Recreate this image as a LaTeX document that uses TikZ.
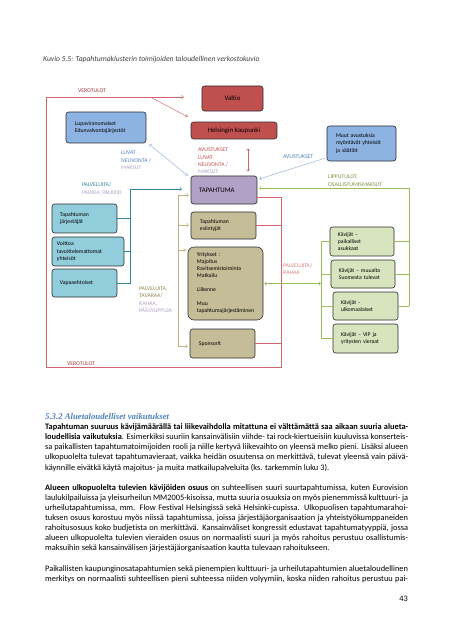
\documentclass[tikz,border=0pt]{standalone}
\usepackage{fontspec}
\setmainfont{Carlito}[Ligatures={TeX,NoCommon}]
\newfontfamily\headfont{Liberation Serif}
\usetikzlibrary{arrows.meta}
\definecolor{cred}{RGB}{192,80,77}
\definecolor{cblue}{RGB}{141,179,226}
\definecolor{cpurple}{RGB}{178,161,199}
\definecolor{cteal}{RGB}{146,205,220}
\definecolor{ctan}{RGB}{196,189,151}
\definecolor{cgreen}{RGB}{215,228,189}
\definecolor{boxborder}{RGB}{45,45,45}
\definecolor{redln}{RGB}{210,100,110}
\definecolor{blueln}{RGB}{149,179,215}
\definecolor{tealln}{RGB}{49,133,156}
\definecolor{tanln}{RGB}{190,180,130}
\definecolor{greenln}{RGB}{155,187,89}
\definecolor{lvero}{RGB}{160,60,62}
\definecolor{lblue}{RGB}{79,129,189}
\definecolor{llilac}{RGB}{178,161,199}
\definecolor{lteal}{RGB}{49,133,156}
\definecolor{lred}{RGB}{192,80,77}
\definecolor{lolive}{RGB}{119,147,60}
\definecolor{lkhaki}{RGB}{148,138,84}
\definecolor{lpink}{RGB}{217,130,128}
\definecolor{headblue}{RGB}{79,129,189}
\definecolor{capgray}{RGB}{64,64,64}
\newlength\TW
\setlength\TW{477pt}
\begin{document}
\begin{tikzpicture}[x=1.3141pt,y=-1.3141pt,
  box/.style={draw=boxborder, line width=0.8pt, rounded corners=3.5pt, inner sep=0pt, align=left, font=\fontsize{7.5}{9.6}\selectfont},
  bigbox/.style={box, align=center, font=\fontsize{9}{11}\selectfont},
  lbl/.style={inner sep=0pt, align=left, anchor=west, font=\fontsize{7.5}{9.7}\selectfont},
  ln/.style={line width=0.6pt},
  arr/.style={-{Straight Barb[length=2.6pt,width=4.5pt]}},
  arrtwo/.style={{Straight Barb[length=2.6pt,width=4.5pt]}-{Straight Barb[length=2.6pt,width=4.5pt]}},
  bl/.style={anchor=base west, inner sep=0pt, font=\fontsize{11}{13.3}\selectfont}]
\useasboundingbox[fill=white] (0,0) rectangle (453,640);

% caption
\node[anchor=base west, inner sep=0pt, font=\fontsize{10}{12}\selectfont\itshape, text=capgray] (cap) at (43,62) {Kuvio 5.5: Tapahtumaklusterin toimijoiden taloudellinen verkostokuvio};

% boxes
\node[bigbox, fill=cred, minimum width=80.2pt, minimum height=32.9pt] (valtio) at (232.5,98.5) {Valtio};
\node[bigbox, fill=cred, minimum width=113pt, minimum height=22.3pt] (hki) at (234,130.5) {Helsingin kaupunki};
\node[box, fill=cblue, minimum width=105.1pt, minimum height=40.7pt, text width=81.5pt] (lupa) at (106,127.5) {Lupaviranomaiset\\Edunvalvontajärjestöt};
\node[box, fill=cblue, minimum width=90.7pt, minimum height=46pt, text width=67pt] (muut) at (361.5,143.5) {Muut avustuksia\\myöntävät yhteisöt\\ja säätiöt};
\node[box, fill=cpurple, minimum width=86.7pt, minimum height=36.8pt, text width=65.7pt, font=\fontsize{9}{11}\selectfont] (tap) at (224,190) {TAPAHTUMA};
\node[box, fill=cteal, minimum width=85.4pt, minimum height=38.1pt, text width=64.4pt] (jarj) at (84.5,218.5) {Tapahtuman\\järjestäjät};
\node[box, fill=cteal, minimum width=94.6pt, minimum height=38.1pt, text width=81.5pt] (voitto) at (88,251.5) {Voittoa\\tavoittelemattomat\\yhteisöt};
\node[box, fill=cteal, minimum width=85.4pt, minimum height=36.8pt, text width=64.4pt] (vapaa) at (84.5,283) {Vapaaehtoiset};
\node[box, fill=ctan, minimum width=85.4pt, minimum height=35.5pt, text width=61.8pt] (esi) at (223.5,225.5) {Tapahtuman\\esiintyjät};
\node[box, fill=ctan, rounded corners=8pt, minimum width=98.6pt, minimum height=95.9pt, text width=75pt, font=\fontsize{7.5}{9.2}\selectfont] (yrit) at (225.5,283.5) {Yritykset :\\Majoitus\\Ravitsemistoiminta\\Matkailu\\[9.2pt]Liikenne\\[9.2pt]Muu\\tapahtumajärjestäminen};
\node[box, fill=ctan, minimum width=85.4pt, minimum height=38.1pt, text width=61.8pt] (spon) at (222.5,343.5) {Sponsorit};
\node[box, fill=cgreen, minimum width=84.1pt, minimum height=38.1pt, text width=63.1pt] (k1) at (362,241.5) {Kävijät –\\paikalliset\\asukkaat};
\node[box, fill=cgreen, minimum width=84.1pt, minimum height=36.8pt, text width=63.1pt] (k2) at (363,274) {Kävijät – muualta\\Suomesta tulevat};
\node[box, fill=cgreen, minimum width=85.4pt, minimum height=36.8pt, text width=64.4pt] (k3) at (365.5,306) {Kävijät -\\ulkomaalaiset};
\node[box, fill=cgreen, minimum width=85.4pt, minimum height=38.1pt, text width=64.4pt] (k4) at (365.5,338.5) {Kävijät – VIP ja\\yritysten vieraat};

% coordinates
\coordinate (tl) at (46,97);
\coordinate (bl) at (46,367);
\coordinate (br) at (281,367);
\coordinate (vend) at (184,97);
\coordinate (d0) at (150,97);
\coordinate (r1) at (281,197);
\coordinate (r2) at (281,225);
\coordinate (r3) at (281,343);
\coordinate (tb) at (130,189);
\coordinate (tend) at (182,189);
\coordinate (nb) at (178,195);
\coordinate (n1) at (189,195);
\coordinate (n2) at (189,225);
\coordinate (n3) at (186,250);
\coordinate (n4) at (188,346);
\coordinate (g1) at (409,188);
\coordinate (g1e) at (259,188);
\coordinate (kb) at (321,241.5);

% red connectors (VEROTULOT)
\draw[ln, redln, arr] (r1 -| tap.east) -- (r1) -- (br) -- (bl) -- (tl) -- (vend);
\draw[ln, redln] (r2 -| esi.east) -- (r2);
\draw[ln, redln] (r3 -| spon.east) -- (r3);
\draw[ln, redln, arr] (d0) -- ([shift={(-3,-5)}]hki.north west);
\draw[ln, redln, arrtwo] ([shift={(14,9)}]hki.south) -- ([shift={(24,-4)}]tap.north);

% blue connectors
\draw[ln, blueln, arrtwo] ([shift={(3,1)}]lupa.south east) -- ([shift={(-3,0)}]tap.north west);
\draw[ln, blueln, arr] ([shift={(-2,-3)}]muut.south west) -- ([shift={(2,-11)}]tap.east);

% green connectors
\draw[ln, greenln, arr] (k3.east -| g1) -- (g1) -- (g1e);
\draw[ln, greenln] (k1.east) -- (k1.east -| g1);
\draw[ln, greenln] (k2.east) -- (k2.east -| g1);
\draw[ln, greenln] (k3.east) -- (k3.east -| g1);
\draw[ln, greenln] (k1.west) -- (kb) -- (k4.west -| kb) -- (k4.west);
\draw[ln, greenln] (k2.west) -- (k2.west -| kb);
\draw[ln, greenln] (k3.west) -- (k3.west -| kb);
\draw[ln, greenln, arrtwo] ([xshift=1.3pt]yrit.east) -- (yrit.east -| kb);

% teal connectors
\draw[ln, tealln, arr] (vapaa.east) -- (vapaa.east -| tb) -- (tb) -- (tend);
\draw[ln, tealln] (jarj.east) -- (jarj.east -| tb);
\draw[ln, tealln] (voitto.east) -- (voitto.east -| tb);

% tan connectors
\draw[ln, tanln, arr] (nb) -- (n1);
\draw[ln, tanln] (nb) -- (nb |- n4);
\draw[ln, tanln, arr] (nb |- n2) -- (n2);
\draw[ln, tanln, arr] (nb |- n3) -- (n3);
\draw[ln, tanln, arr] (nb |- n4) -- (n4);

% labels
\node[lbl, text=lvero] (vt1) at (78,91) {VEROTULOT};
\node[lbl, text=lvero] (vt2) at (67,363.5) {VEROTULOT};
\node[lbl] (luvat) at (121,160.5) {\textcolor{lblue}{LUVAT}\\\textcolor{lblue}{NEUVONTA /}\\\textcolor{llilac}{MAKSUT}};
\node[lbl] (palk) at (82,189) {\textcolor{lteal}{PALVELUITA/}\\\textcolor{llilac}{PALKKA, PALKKIO}};
\node[lbl] (avu) at (198,161) {\textcolor{lred}{AVUSTUKSET}\\\textcolor{lred}{LUVAT}\\\textcolor{lred}{NEUVONTA /}\\\textcolor{llilac}{MAKSUT}};
\node[lbl, text=lblue] (avu2) at (283,157) {AVUSTUKSET};
\node[lbl, text=lolive] (lip) at (328,180.5) {LIPPUTULOT,\\OSALLISTUMISMAKSUT};
\node[lbl, text=lpink] (prah) at (283,269) {PALVELUITA/\\RAHAA};
\node[lbl] (ptav) at (139,299.5) {\textcolor{lkhaki}{PALVELUITA,}\\\textcolor{lkhaki}{TAVARAA/}\\\textcolor{llilac}{RAHAA,}\\\textcolor{llilac}{PÄÄSYLIPPUJA}};

% text section
\node[anchor=base west, inner sep=0pt, font=\headfont\fontsize{11.5}{13}\selectfont\bfseries\itshape, text=headblue] (head) at (45,419.5) {5.3.2 Aluetaloudelliset vaikutukset};
\node[bl] (t1) at (45,429.6) {\hbox to\TW{\textbf{Tapahtuman suuruus kävijämäärällä tai liikevaihdolla mitattuna ei välttämättä saa aikaan suuria alueta-}}};
\node[bl] (t2) at (45,439.7) {\hbox to\TW{\textbf{loudellisia vaikutuksia}. Esimerkiksi suuriin kansainvälisiin viihde- tai rock-kiertueisiin kuuluvissa konserteis-}};
\node[bl] (t3) at (45,449.8) {\hbox to\TW{sa paikallisten tapahtumatoimijoiden rooli ja niille kertyvä liikevaihto on yleensä melko pieni. Lisäksi alueen}};
\node[bl] (t4) at (45,459.9) {\hbox to\TW{ulkopuolelta tulevat tapahtumavieraat, vaikka heidän osuutensa on merkittävä, tulevat yleensä vain päivä-}};
\node[bl] (t5) at (45,470.0) {käynnille eivätkä käytä majoitus- ja muita matkailupalveluita (ks. tarkemmin luku 3).};
\node[bl] (t6) at (45,490.2) {\hbox to\TW{\textbf{Alueen ulkopuolelta tulevien kävijöiden osuus} on suhteellisen suuri suurtapahtumissa, kuten Eurovision}};
\node[bl] (t7) at (45,500.3) {\hbox to\TW{laulukilpailuissa ja yleisurheilun MM2005-kisoissa, mutta suuria osuuksia on myös pienemmissä kulttuuri- ja}};
\node[bl] (t8) at (45,510.4) {\hbox to\TW{urheilutapahtumissa, mm. Flow Festival Helsingissä sekä Helsinki-cupissa. Ulkopuolisen tapahtumarahoi-}};
\node[bl] (t9) at (45,520.5) {\hbox to\TW{tuksen osuus korostuu myös niissä tapahtumissa, joissa järjestäjäorganisaation ja yhteistyökumppaneiden}};
\node[bl] (t10) at (45,530.6) {\hbox to\TW{rahoitusosuus koko budjetista on merkittävä. Kansainväliset kongressit edustavat tapahtumatyyppiä, jossa}};
\node[bl] (t11) at (45,540.7) {\hbox to\TW{alueen ulkopuolelta tulevien vieraiden osuus on normaalisti suuri ja myös rahoitus perustuu osallistumis-}};
\node[bl] (t12) at (45,550.8) {maksuihin sekä kansainvälisen järjestäjäorganisaation kautta tulevaan rahoitukseen.};
\node[bl] (t13) at (45,571.0) {\hbox to\TW{Paikallisten kaupunginosatapahtumien sekä pienempien kulttuuri- ja urheilutapahtumien aluetaloudellinen}};
\node[bl] (t14) at (45,581.1) {\hbox to\TW{merkitys on normaalisti suhteellisen pieni suhteessa niiden volyymiin, koska niiden rahoitus perustuu pai-}};
\node[anchor=base east, inner sep=0pt, font=\fontsize{11}{13}\selectfont] (pnum) at (408,601) {43};
\end{tikzpicture}
\end{document}
